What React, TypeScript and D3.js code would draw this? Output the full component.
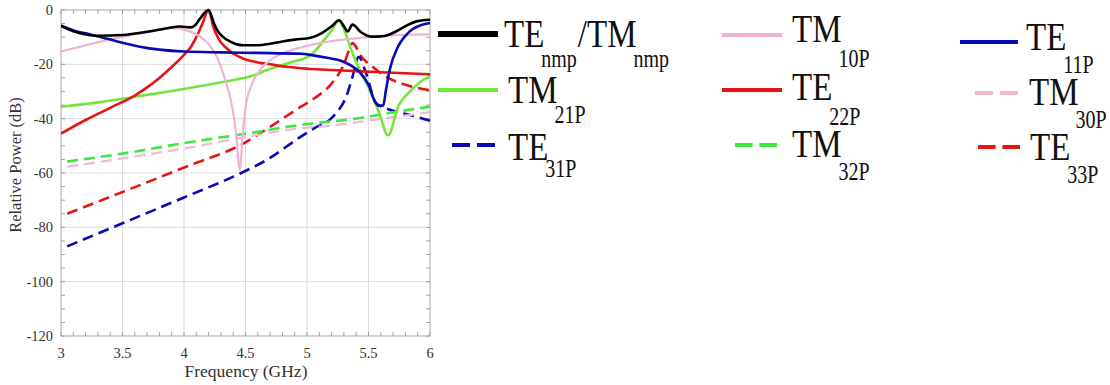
import React from "react";
import * as d3 from "d3";

type P = [number, number];

// ---- data (frequency GHz, relative power dB) ----
const totalTETM: P[] = [
  [3.0, -5.8], [3.1, -7.8], [3.2, -9.0], [3.3, -9.5], [3.5, -9.2], [3.7, -8.0], [3.85, -6.8],
  [3.97, -6.1], [4.05, -6.4], [4.09, -5.6], [4.13, -3.2], [4.2, 0], [4.24, -4.5], [4.27, -7.4],
  [4.38, -11.7], [4.48, -13.0], [4.6, -13.0], [4.7, -12.4], [4.8, -11.6], [4.9, -10.9], [5.03, -10.2],
  [5.12, -8.5], [5.2, -6.0], [5.26, -3.8], [5.3, -6.0], [5.33, -7.9], [5.37, -5.4], [5.44, -8.2],
  [5.52, -9.8], [5.6, -9.7], [5.66, -9.2], [5.74, -7.5], [5.82, -5.5], [5.9, -4.1], [6.0, -3.6],
];
const tm10p: P[] = [
  [3.0, -15.3], [3.2, -13.0], [3.4, -10.8], [3.64, -8.6], [3.8, -7.3], [3.91, -6.7], [4.0, -7.2],
  [4.13, -9.8], [4.2, -12.5], [4.27, -17.5], [4.33, -25], [4.38, -33], [4.42, -44], [4.455, -59],
  [4.475, -47], [4.5, -36], [4.55, -27.5], [4.62, -22], [4.7, -18.5], [4.8, -16], [4.95, -13.8],
  [5.1, -12.2], [5.28, -11], [5.5, -10], [5.77, -9.2], [6.0, -9.0],
];
const te11p: P[] = [
  [3.0, -5.8], [3.1, -7.5], [3.2, -8.6], [3.32, -9.9], [3.45, -11.5], [3.64, -13.5], [3.8, -14.6],
  [4.0, -15.3], [4.3, -15.6], [4.6, -15.8], [4.95, -16.1], [5.05, -16.7], [5.15, -17.5],
  [5.28, -18.8], [5.36, -20.5], [5.42, -22.5], [5.5, -27.5], [5.55, -33.5], [5.58, -35.2],
  [5.62, -35.2], [5.64, -30], [5.67, -22.5], [5.74, -13.5], [5.8, -9.5], [5.86, -7.0],
  [5.93, -5.5], [6.0, -4.8],
];
const tm21p: P[] = [
  [3.0, -35.6], [3.3, -34.0], [3.59, -32.0], [3.9, -29.8], [4.13, -28.0], [4.4, -25.8],
  [4.55, -24.3], [4.68, -22.0], [4.85, -19.5], [5.03, -16.6], [5.14, -11], [5.2, -7.5],
  [5.26, -3.9], [5.3, -7.0], [5.36, -14.7], [5.44, -23.2], [5.5, -28.5], [5.58, -37],
  [5.66, -46.2], [5.74, -35.7], [5.85, -29.4], [5.92, -26.5], [6.0, -24.5],
];
const te22p: P[] = [
  [3.0, -45.5], [3.2, -40.5], [3.4, -36.0], [3.6, -31.5], [3.7, -28.5], [3.8, -25.0], [3.9, -21.0],
  [4.0, -16.5], [4.05, -14.0], [4.1, -10.0], [4.15, -5.0], [4.2, 0], [4.24, -6.5], [4.28, -10.5],
  [4.34, -13.8], [4.4, -16.0], [4.5, -18.2], [4.6, -19.3], [4.7, -20.0], [4.85, -21.0],
  [5.0, -21.6], [5.2, -22.1], [5.4, -22.5], [5.6, -22.9], [5.8, -23.3], [6.0, -23.7],
];
const tm30p: P[] = [
  [3.05, -57.7], [3.59, -54.0], [4.0, -51.0], [4.52, -46.6], [4.95, -43.5], [5.19, -42.6],
  [5.5, -40.7], [6.0, -37.6],
];
const te31p: P[] = [
  [3.05, -87], [3.5, -78.5], [4.0, -69], [4.46, -60.1], [4.68, -55], [4.95, -46.6], [5.06, -43.5],
  [5.21, -39.3], [5.33, -30.5], [5.37, -24.5], [5.42, -17.3], [5.48, -23.2], [5.56, -34.2],
  [5.68, -36.8], [5.85, -38.8], [6.0, -40.8],
];
const tm32p: P[] = [
  [3.05, -55.8], [3.59, -52.2], [4.0, -49.0], [4.52, -45.4], [4.95, -42.3], [5.06, -41.7],
  [5.5, -39.3], [5.58, -38.6], [6.0, -35.6],
];
const te33p: P[] = [
  [3.05, -75], [3.5, -67], [4.0, -58], [4.5, -48.7], [4.7, -43], [4.95, -35.6], [5.06, -32.5],
  [5.22, -26], [5.3, -20], [5.34, -15], [5.37, -12.2], [5.44, -17], [5.55, -21.5], [5.66, -25],
  [5.8, -27.5], [6.0, -29.5],
];

const xTicks = [3, 3.5, 4, 4.5, 5, 5.5, 6];
const xTickLabels = ["3", "3.5", "4", "4.5", "5", "5.5", "6"];
const yTicks = [0, -20, -40, -60, -80, -100, -120];
const yTickLabels = ["0", "-20", "-40", "-60", "-80", "-100", "-120"];

const seriesNames = ["TE/TM_nmp", "TM_10P", "TE_11P", "TM_21P", "TE_22P", "TM_30P", "TE_31P", "TM_32P", "TE_33P"];
const seriesData = [totalTETM, tm10p, te11p, tm21p, te22p, tm30p, te31p, tm32p, te33p];
const seriesColors = ["#000000", "#f2b3d3", "#0a0ab4", "#74e53c", "#e81414", "#f2b8d2", "#0a0ab4", "#3ce83c", "#e81414"];
const seriesDashed = [false, false, false, false, false, true, true, true, true];
const legendMain = ["TE", "TM", "TE", "TM", "TE", "TM", "TE", "TM", "TE"];
const legendSub = ["nmp", "10P", "11P", "21P", "22P", "30P", "31P", "32P", "33P"];

// ---- layout ----
const W = 1110, H = 385;
const L = 61, R = 430, T = 10, B = 336;
const FONT = "Liberation Serif";

// legend layout: [lineX1, lineX2, lineY, textX, baseline, subBaseline]
const legendLayout: number[][] = [
  [438, 498, 34, 504, 47, 67],
  [722, 782, 35, 792, 42, 67],
  [960, 1018, 42, 1026, 50, 73],
  [438, 498, 90, 508, 103, 123],
  [722, 782, 90, 792, 100, 125],
  [975, 1018, 93, 1029, 105, 128],
  [452, 495, 145, 508, 160, 177],
  [735, 777, 145, 792, 157, 180],
  [978, 1020, 147, 1030, 160, 183],
];

export default function App() {
  const x = d3.scaleLinear().domain([3, 6]).range([L, R]);
  const y = d3.scaleLinear().domain([-120, 0]).range([B, T]);
  const line = d3
    .line<P>()
    .x((d) => x(d[0]))
    .y((d) => y(d[1]))
    .curve(d3.curveMonotoneX);

  const xMinor = d3.range(3, 6.0001, 0.1);
  const yMinor = d3.range(-120, 0.001, 5);
  const SY = 1.22;

  const drawOrder = [8, 6, 7, 5, 3, 4, 1, 2, 0];

  return (
    <svg width={W} height={H} style={{ position: "absolute", left: 0, top: 0 }}>
      {/* grid */}
      {xTicks.slice(1, -1).map((t) => (
        <line key={"gx" + t} x1={x(t)} x2={x(t)} y1={T} y2={B} stroke="#dcdcdc" strokeWidth={1} />
      ))}
      {yTicks.slice(1, -1).map((t) => (
        <line key={"gy" + t} x1={L} x2={R} y1={y(t)} y2={y(t)} stroke="#dcdcdc" strokeWidth={1} />
      ))}
      {/* minor ticks */}
      {xMinor.map((t, i) => (
        <g key={"mx" + i}>
          <line x1={x(t)} x2={x(t)} y1={B} y2={B - 4} stroke="#a0a0a0" />
          <line x1={x(t)} x2={x(t)} y1={T} y2={T + 4} stroke="#a0a0a0" />
        </g>
      ))}
      {yMinor.map((t, i) => (
        <g key={"my" + i}>
          <line x1={L} x2={L + 4} y1={y(t)} y2={y(t)} stroke="#a0a0a0" />
          <line x1={R} x2={R - 4} y1={y(t)} y2={y(t)} stroke="#a0a0a0" />
        </g>
      ))}
      {/* frame */}
      <rect x={L} y={T} width={R - L} height={B - T} fill="none" stroke="#a8a8a8" strokeWidth={1} />

      {/* series */}
      <defs>
        <clipPath id="plotclip">
          <rect x={L} y={T - 3} width={R - L + 1} height={B - T + 3} />
        </clipPath>
      </defs>
      <g clipPath="url(#plotclip)">
        {drawOrder.map((i) => (
          <path
            key={seriesNames[i]}
            d={line(seriesData[i]) || ""}
            fill="none"
            stroke={seriesColors[i]}
            strokeWidth={i === 1 || i === 5 ? 2.2 : 2.6}
            strokeDasharray={seriesDashed[i] ? "11,6" : undefined}
            strokeLinejoin="round"
          />
        ))}
      </g>

      {/* tick labels */}
      {xTicks.map((t, i) => (
        <text key={"xl" + t} x={x(t)} y={358} textAnchor="middle" fontFamily={FONT} fontSize={14.5} fill="#333">
          {xTickLabels[i]}
        </text>
      ))}
      {yTicks.map((t, i) => (
        <text key={"yl" + t} x={53} y={y(t) + 5} textAnchor="end" fontFamily={FONT} fontSize={14.5} fill="#333">
          {yTickLabels[i]}
        </text>
      ))}
      <text x={246} y={377} textAnchor="middle" fontFamily={FONT} fontSize={17.5} fill="#333">
        Frequency (GHz)
      </text>
      <text
        transform="translate(21,165) rotate(-90)"
        textAnchor="middle"
        fontFamily={FONT}
        fontSize={16.5}
        fill="#333"
      >
        Relative Power (dB)
      </text>

      {/* legend */}
      {legendLayout.map((lay, i) => {
        const [lx1, lx2, ly, tx, tb, sb] = lay;
        const subDy = (sb - tb) / SY;
        const dashed = seriesDashed[i];
        const len = lx2 - lx1;
        return (
          <g key={"lg" + i}>
            <line
              x1={lx1}
              x2={lx2}
              y1={ly}
              y2={ly}
              stroke={seriesColors[i]}
              strokeWidth={i === 0 ? 6 : 4}
              strokeDasharray={dashed ? `${len * 0.42},${len * 0.16}` : undefined}
            />
            <g transform={`translate(${tx},${tb}) scale(1,${SY})`}>
              <text x={0} y={0} fontFamily={FONT} fontSize={33} fill="#111">
                {legendMain[i]}
                <tspan fontFamily={FONT} fontSize={20} dx={-3} dy={subDy}>
                  {legendSub[i]}
                </tspan>
                {i === 0 ? (
                  <>
                    <tspan fontFamily={FONT} fontSize={33} dx={1} dy={-subDy}>
                      /TM
                    </tspan>
                    <tspan fontFamily={FONT} fontSize={20} dx={-3} dy={subDy}>
                      nmp
                    </tspan>
                  </>
                ) : null}
              </text>
            </g>
          </g>
        );
      })}
    </svg>
  );
}
